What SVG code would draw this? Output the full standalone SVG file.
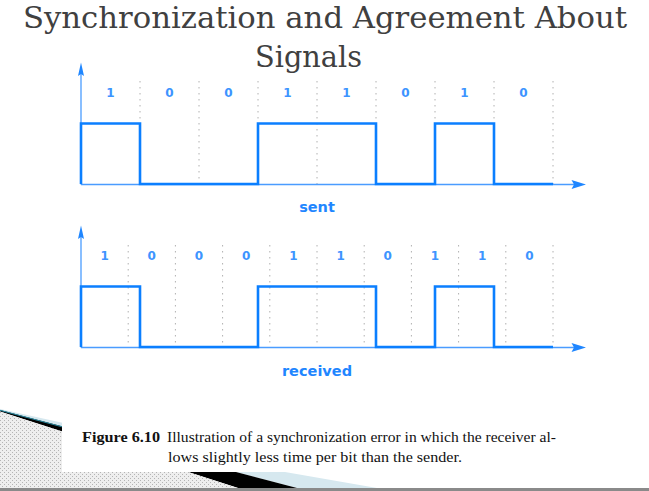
<svg xmlns="http://www.w3.org/2000/svg" width="649" height="491" viewBox="0 0 649 491">
<defs>
<pattern id="hatch" width="4" height="4" patternUnits="userSpaceOnUse">
<rect width="4" height="4" fill="#eeeeee"/>
<rect x="0" y="0" width="1" height="1" fill="#b4b4b4"/>
<rect x="2" y="2" width="1" height="1" fill="#b4b4b4"/>
</pattern>
<style>
.title{font-family:"DejaVu Serif","Liberation Serif",serif;font-size:30px;fill:#404040}
.axis{stroke:#4a9cff;stroke-width:1.3;fill:none}
.sig{stroke:#0b7fff;stroke-width:2.6;fill:none;stroke-linejoin:miter}
.dot{stroke:#b0b0b0;stroke-width:1;stroke-dasharray:1.5 4.5}
.bit{font-family:"DejaVu Sans","Liberation Sans",sans-serif;font-weight:bold;font-size:12px;fill:#3d94ff;text-anchor:middle}
.lbl{font-family:"DejaVu Sans","Liberation Sans",sans-serif;font-weight:bold;font-size:14.5px;fill:#1f86ff;text-anchor:middle}
.arr{fill:#1f86ff}
.cap{font-family:"Liberation Serif","Times New Roman",serif;font-size:15px;fill:#111}
</style>
</defs>
<rect width="649" height="491" fill="#ffffff"/>

<g id="background">
<polygon points="0,409 285,472 377,488 297,488 0,411" fill="#d6e8ef"/>
<polygon points="0,410 297,488 238,488 0,411.5" fill="#000000"/>
<line x1="0" y1="410.3" x2="62" y2="426.8" stroke="#2a8aa0" stroke-width="1"/>
<polygon points="0,411.5 238,488 0,488" fill="url(#hatch)"/>
<rect x="0" y="488" width="649" height="3" fill="#8a8a8a"/>
</g>

<g id="title">
<text class="title" x="23" y="27.5" textLength="604" lengthAdjust="spacingAndGlyphs">Synchronization and Agreement About</text>
<text class="title" x="255" y="67" textLength="107" lengthAdjust="spacingAndGlyphs">Signals</text>
</g>

<g id="sent-plot">
<g id="sent-grid">
<line class="dot" x1="140" y1="81" x2="140" y2="184"/>
<line class="dot" x1="199" y1="81" x2="199" y2="184"/>
<line class="dot" x1="258" y1="81" x2="258" y2="184"/>
<line class="dot" x1="317" y1="81" x2="317" y2="184"/>
<line class="dot" x1="376" y1="81" x2="376" y2="184"/>
<line class="dot" x1="435" y1="81" x2="435" y2="184"/>
<line class="dot" x1="494" y1="81" x2="494" y2="184"/>
<line class="dot" x1="553" y1="81" x2="553" y2="184"/>
</g>
<g id="sent-axes">
<line class="axis" x1="81" y1="74" x2="81" y2="184.5"/>
<line class="axis" x1="81" y1="184.5" x2="574" y2="184.5"/>
<polygon class="arr" points="81,62.5 84,76 81,74 78,76"/>
<polygon class="arr" points="586,184.5 571.5,180 574,184.5 571.5,189"/>
</g>
<path class="sig" d="M81,184 V123.5 H140 V184 H258 V123.5 H376 V184 H435 V123.5 H494 V184 H553"/>
<g id="sent-bits">
<text class="bit" x="110.5" y="96.5">1</text>
<text class="bit" x="169.5" y="96.5">0</text>
<text class="bit" x="228.5" y="96.5">0</text>
<text class="bit" x="287.5" y="96.5">1</text>
<text class="bit" x="346.5" y="96.5">1</text>
<text class="bit" x="405.5" y="96.5">0</text>
<text class="bit" x="464.5" y="96.5">1</text>
<text class="bit" x="523.5" y="96.5">0</text>
</g>
<text class="lbl" x="317" y="211.5">sent</text>
</g>

<g id="received-plot">
<g id="received-grid">
<line class="dot" x1="128.2" y1="245" x2="128.2" y2="347"/>
<line class="dot" x1="175.4" y1="245" x2="175.4" y2="347"/>
<line class="dot" x1="222.6" y1="245" x2="222.6" y2="347"/>
<line class="dot" x1="269.8" y1="245" x2="269.8" y2="347"/>
<line class="dot" x1="317" y1="245" x2="317" y2="347"/>
<line class="dot" x1="364.2" y1="245" x2="364.2" y2="347"/>
<line class="dot" x1="411.4" y1="245" x2="411.4" y2="347"/>
<line class="dot" x1="458.6" y1="245" x2="458.6" y2="347"/>
<line class="dot" x1="505.8" y1="245" x2="505.8" y2="347"/>
<line class="dot" x1="553" y1="245" x2="553" y2="347"/>
</g>
<g id="received-axes">
<line class="axis" x1="81" y1="237" x2="81" y2="347.5"/>
<line class="axis" x1="81" y1="347.5" x2="574" y2="347.5"/>
<polygon class="arr" points="81,225.5 84,239 81,237 78,239"/>
<polygon class="arr" points="586,347.5 571.5,343 574,347.5 571.5,352"/>
</g>
<path class="sig" d="M81,347 V286.5 H140 V347 H258 V286.5 H376 V347 H435 V286.5 H494 V347 H553"/>
<g id="received-bits">
<text class="bit" x="104.6" y="260">1</text>
<text class="bit" x="151.8" y="260">0</text>
<text class="bit" x="199" y="260">0</text>
<text class="bit" x="246.2" y="260">0</text>
<text class="bit" x="293.4" y="260">1</text>
<text class="bit" x="340.6" y="260">1</text>
<text class="bit" x="387.8" y="260">0</text>
<text class="bit" x="435" y="260">1</text>
<text class="bit" x="482.2" y="260">1</text>
<text class="bit" x="529.4" y="260">0</text>
</g>
<text class="lbl" x="317" y="375.5">received</text>
</g>

<g id="caption">
<rect x="62" y="398" width="587" height="74" fill="#ffffff"/>
<text class="cap" x="82" y="442" font-weight="bold" textLength="78" lengthAdjust="spacingAndGlyphs">Figure 6.10</text>
<text class="cap" x="167" y="442" textLength="389" lengthAdjust="spacingAndGlyphs">Illustration of a synchronization error in which the receiver al-</text>
<text class="cap" x="168" y="462" textLength="294" lengthAdjust="spacingAndGlyphs">lows slightly less time per bit than the sender.</text>
</g>
</svg>
